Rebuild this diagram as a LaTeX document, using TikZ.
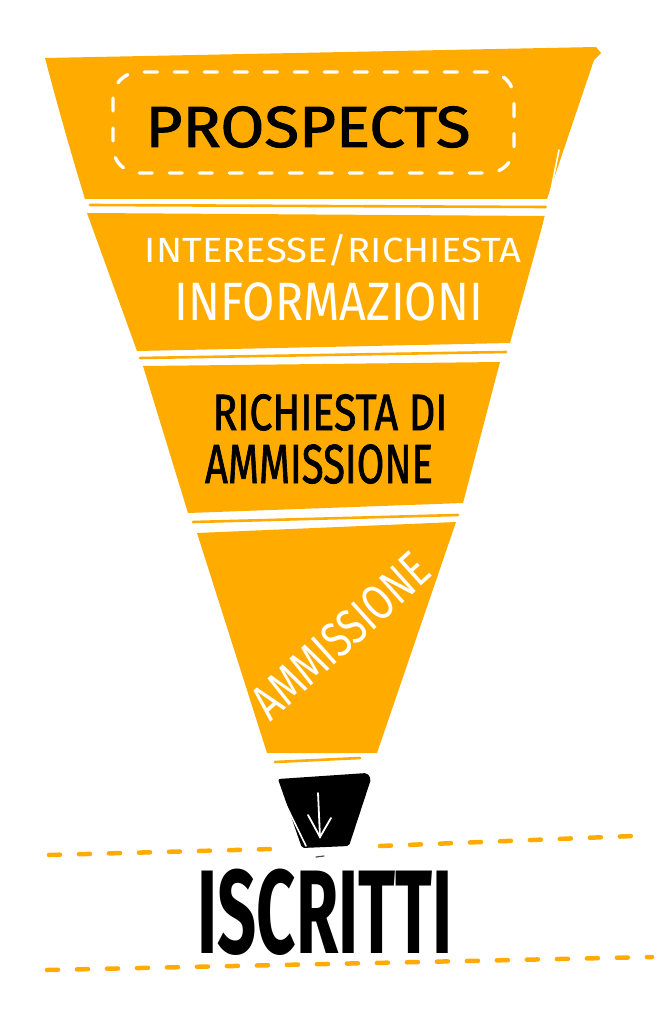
\documentclass[tikz,border=0pt]{standalone}
\usepackage{fontspec}
\setmainfont{Fira Sans}
\newfontfamily\markerfont[FakeBold=1.6]{Fira Sans}
\usepackage{graphicx}
\definecolor{funnel}{HTML}{FFAB00}
\tikzset{
  band/.style={fill=funnel, draw=none},
  sliver/.style={draw=funnel, line width=2.6pt, line cap=round},
  blackhand/.style={text=black, inner sep=0pt},
  whitehand/.style={text=white, inner sep=0pt},
  orangedash/.style={draw=funnel, line width=4.5pt, line cap=round, dash pattern=on 11pt off 19pt},
  whitedash/.style={draw=white, line width=3.4pt, line cap=round, dash pattern=on 13pt off 17pt, rounded corners=26pt},
  whitesketch/.style={draw=white, line width=1.6pt, line cap=round},
}
\newcommand{\fsz}[1]{\fontsize{#1}{#1}\selectfont}
\begin{document}
\begin{tikzpicture}[x=1pt,y=-1pt]
\useasboundingbox[fill=white] (0,0) rectangle (669,1024);

% funnel bands
\fill[band] (45,58) -- (596,47) -- (601,53) -- (594,60) -- (547,199) -- (85,199) .. controls (70,150) and (56,100) .. (45,58) -- cycle;
\fill[band] (87,213) -- (545,216) -- (510,343) -- (137,351) -- cycle;
\fill[band] (143,366) -- (500,362) -- (463,503) -- (188,513) -- cycle;
\fill[band] (197,533) -- (456,522) -- (377,753) -- (267,753) -- cycle;

% slivers between bands
\draw[sliver] (90,205) -- (546,207);
\draw[sliver] (140,358) -- (506,352);
\draw[sliver] (193,522) -- (458,515);
\draw[sliver] (275,762) -- (360,758);

% sketch line on right edge
\draw[whitesketch] (559,150) -- (548,205) -- (538,250);

% dashed box around PROSPECTS
\draw[whitedash] (113,72) rectangle (514,173);

% texts in funnel
\node[blackhand, anchor=base] (prospects) at (308,147)
  {\resizebox{325pt}{\height}{\markerfont\fsz{58}PROSPECTS}};
\node[whitehand, anchor=base] (interesse) at (333,262)
  {\resizebox{376pt}{\height}{\fsz{35}INTERESSE/RICHIESTA}};
\node[whitehand, anchor=base] (informazioni) at (329,320)
  {\resizebox{308pt}{\height}{\fsz{54}INFORMAZIONI}};
\node[blackhand, anchor=base] (richiesta) at (330,430)
  {\resizebox{235pt}{\height}{\markerfont\fsz{51}RICHIESTA DI}};
\node[blackhand, anchor=base] (ammissione) at (319,483)
  {\resizebox{228pt}{\height}{\markerfont\fsz{55}AMMISSIONE}};
\node[whitehand, rotate=42] (ammissione2) at (341,636)
  {\resizebox{220pt}{\height}{\fsz{50}AMMISSIONE}};

% black cup with arrow
\fill[black, rounded corners=2pt] (278,779) -- (367,773) -- (371,779) -- (349,846) -- (302,848) -- cycle;
\draw[whitesketch] (284,801) -- (306,846);
\coordinate (arrtop) at (318,793);
\coordinate (arrtip) at (320,837);
\draw[whitesketch, line width=1.8pt] (arrtop) -- (arrtip);
\draw[whitesketch, line width=1.8pt] (308,815) -- (arrtip) -- (331,818);
\draw[black!70, line width=1.2pt, line cap=round] (316,857) -- (324,856);

% orange dashed lines
\draw[orangedash] (49,855) -- (272,849);
\draw[orangedash] (380,846) -- (633,836);
\draw[orangedash] (47,970) -- (652,957);

% ISCRITTI
\node[blackhand, anchor=base] (iscritti) at (325,953)
  {\resizebox{255pt}{\height}{\fsz{119}\bfseries ISCRITTI}};
\end{tikzpicture}
\end{document}
